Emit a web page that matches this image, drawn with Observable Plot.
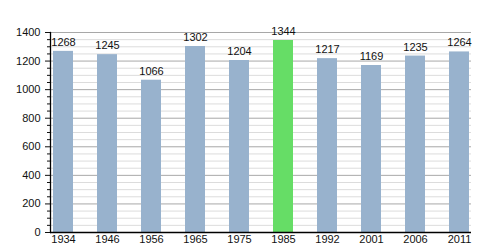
<!DOCTYPE html>
<html>
<head>
<meta charset="utf-8">
<script src="https://cdn.jsdelivr.net/npm/d3@7"></script>
<script src="https://cdn.jsdelivr.net/npm/@observablehq/plot@0.6"></script>
<style>
  html, body { margin: 0; padding: 0; background: #fff; overflow: hidden; }
  #chart svg { display: block; font-family: "Liberation Sans", Arial, sans-serif; }
</style>
</head>
<body>
<div id="chart"></div>
<script>
const years = ["1934", "1946", "1956", "1965", "1975", "1985", "1992", "2001", "2006", "2011"];
const population = [1268, 1245, 1066, 1302, 1204, 1344, 1217, 1169, 1235, 1264];
const highlightYear = "1985";
const majorTicks = [0, 200, 400, 600, 800, 1000, 1200, 1400];
const minorTicks = [50, 100, 150, 250, 300, 350, 450, 500, 550, 650, 700, 750, 850, 900, 950, 1050, 1100, 1150, 1250, 1300, 1350];

const data = years.map((y, i) => ({year: y, value: population[i]}));

const chart = Plot.plot({
  width: 500,
  height: 250,
  marginLeft: 50,
  marginRight: 29,
  marginTop: 32,
  marginBottom: 18,
  style: {fontFamily: "Liberation Sans, Arial, sans-serif", fontSize: "11px", color: "#111", background: "#fff"},
  x: {domain: years, range: [51, 471], paddingInner: 0.55, paddingOuter: 0, label: null},
  y: {domain: [0, 1400], label: null},
  marks: [
    Plot.ruleY(minorTicks, {stroke: "#dcdcdc", strokeWidth: 1}),
    Plot.ruleY(majorTicks.filter(d => d > 0), {stroke: "#a8a8a8", strokeWidth: 1}),
    Plot.barY(data, {x: "year", y: "value", fill: d => d.year === highlightYear ? "#66dd66" : "#98b2cd"}),
    Plot.text(data, {x: "year", y: "value", text: d => String(d.value), dy: -9, fontSize: 11, fill: "#111"}),
    Plot.axisY({ticks: minorTicks, tickSize: 3, text: null, stroke: "#111"}),
    Plot.axisY({ticks: majorTicks, tickSize: 5, tickPadding: 5, tickFormat: d => String(d), fontSize: 11, stroke: "#111"}),
    Plot.axisX({tickSize: 0, tickPadding: 3, fontSize: 11}),
    Plot.ruleY([0], {stroke: "#000", strokeWidth: 1.3}),
    Plot.frame({anchor: "left", stroke: "#000", strokeWidth: 1.3})
  ]
});
document.getElementById("chart").appendChild(chart);
</script>
</body>
</html>
